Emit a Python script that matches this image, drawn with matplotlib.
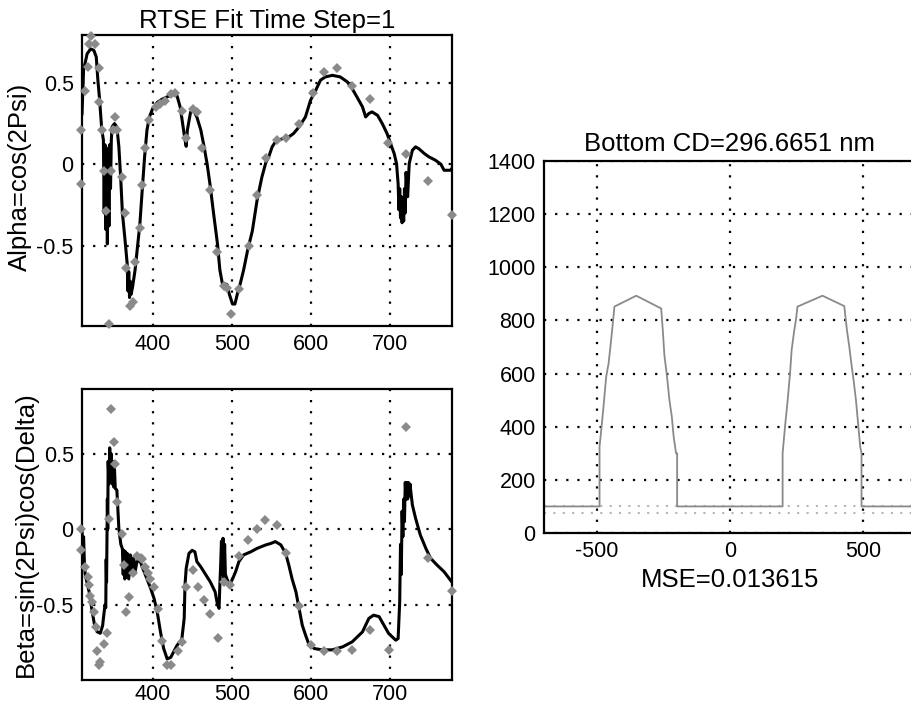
import matplotlib
matplotlib.use('Agg')
import matplotlib.pyplot as plt

plt.rcParams['font.family'] = ['Liberation Sans', 'DejaVu Sans']
plt.rcParams['axes.unicode_minus'] = False

# ---------------- data ----------------
alpha_wl = [311, 313, 317.5, 322, 326, 329, 331, 333, 336, 338, 339, 340, 341, 342, 343, 344, 345, 346, 347, 348,
            349, 352, 355, 357.5, 360, 362, 365, 368, 369, 370, 371, 372, 373, 375, 378, 381, 384, 387, 390, 393,
            396, 400, 406, 412, 421, 427, 431, 435, 438, 441, 442.5, 444, 448, 452, 456, 461, 465, 469, 473, 477,
            482, 485, 488, 494, 497, 501, 504, 507, 511, 515, 520, 526, 532, 538, 543, 547, 551, 555, 564, 572,
            578, 585, 593, 599.5, 606, 612, 618, 627, 637, 646, 652, 658, 665, 669, 673, 677, 684, 690, 696, 700.5,
            705, 708, 710, 711, 712, 713, 714, 715, 716, 717, 718, 719, 720, 722, 724, 728, 732, 736, 743, 749,
            757, 764, 768, 776, 778]
alpha_val = [0.31, 0.58, 0.68, 0.71, 0.70, 0.66, 0.52, 0.41, 0.21, 0.15, -0.30, 0.12, -0.40, 0.10, -0.49, 0.08, -0.38, 0.12, -0.15, 0.15,
             0.23, 0.25, 0.23, 0.11, -0.10, -0.30, -0.45, -0.61, -0.78, -0.66, -0.82, -0.72, -0.80, -0.75, -0.65, -0.51, -0.37, -0.16, 0.045, 0.21,
             0.29, 0.34, 0.38, 0.40, 0.42, 0.43, 0.42, 0.35, 0.25, 0.15, 0.11, 0.21, 0.32, 0.33, 0.29, 0.21, 0.11, 0.0, -0.14, -0.30,
             -0.49, -0.65, -0.73, -0.74, -0.80, -0.86, -0.86, -0.80, -0.73, -0.65, -0.53, -0.41, -0.22, -0.08, 0.01, 0.05, 0.107, 0.137, 0.158, 0.168,
             0.189, 0.23, 0.291, 0.394, 0.455, 0.517, 0.537, 0.547, 0.537, 0.506, 0.465, 0.414, 0.353, 0.291, 0.312, 0.322, 0.301, 0.25, 0.189, 0.127,
             0.066, 0.004, -0.12, -0.28, -0.15, -0.33, -0.20, -0.36, -0.22, -0.35, -0.15, -0.30, -0.05, -0.20, 0.004, 0.086, 0.107, 0.096, 0.066, 0.045,
             0.025, 0.0, -0.037, -0.037, -0.025]

alpha_pts_wl = [322, 320, 327, 318, 315, 310, 310, 332, 333, 336, 339, 341, 345, 347, 350, 353, 355, 362, 365, 366,
                372, 375, 378, 384, 387, 391, 396, 404, 410, 416, 423, 429, 437, 442, 451, 456, 463, 473, 482, 490,
                494, 499, 509, 522, 532, 543, 557, 568, 585, 602, 616, 633, 652, 675, 697, 720, 748, 778]
alpha_pts_val = [0.79, 0.74, 0.74, 0.60, 0.45, 0.21, -0.12, 0.59, 0.38, 0.21, -0.04, -0.29, -0.98, -0.04, 0.21, 0.29, 0.21, -0.08, -0.30, -0.64,
                 -0.87, -0.85, -0.60, -0.39, -0.13, 0.10, 0.27, 0.35, 0.37, 0.39, 0.43, 0.44, 0.33, 0.16, 0.34, 0.32, 0.10, -0.16, -0.54, -0.75,
                 -0.76, -0.92, -0.77, -0.50, -0.19, 0.04, 0.15, 0.16, 0.25, 0.44, 0.57, 0.59, 0.48, 0.40, 0.13, 0.06, -0.10, -0.31]

beta_wl = [311, 312, 313, 314, 315, 320, 324, 327, 330, 334, 337, 340, 341, 341.5, 342, 343, 343.5, 344, 345, 346,
           347, 348, 349, 350, 351, 352, 353, 355, 357.5, 360, 362, 363, 364, 365, 366, 367, 368, 370, 372, 374,
           376, 378, 381, 385, 387, 393, 397.5, 402, 406, 410, 414, 418.5, 423, 427, 431, 437, 440, 441, 442.5, 446,
           450, 453.5, 456, 461, 467, 473, 479, 482, 484, 485, 486, 487, 488, 489, 490, 491, 492, 494, 497, 501,
           505, 509, 515, 524, 532, 543, 549, 555, 562, 568, 572, 576, 581, 585, 589, 593, 597, 604, 614, 627,
           640, 652, 665, 673, 679, 686, 692, 698, 707, 710, 712, 713, 714, 715, 716, 717, 718, 719, 720, 721,
           722, 723, 724, 725, 726, 728, 732, 738, 745, 751, 759, 768, 777.5]
beta_val = [0.007, -0.15, -0.05, -0.22, -0.30, -0.415, -0.55, -0.64, -0.68, -0.69, -0.64, -0.50, -0.52, -0.20, -0.35, 0.20, 0.0, 0.45, 0.30, 0.54,
            0.32, 0.50, 0.30, 0.45, 0.28, 0.40, 0.27, 0.26, 0.007, -0.10, -0.13, -0.30, -0.14, -0.33, -0.15, -0.32, -0.16, -0.33, -0.17, -0.30,
            -0.19, -0.28, -0.20, -0.22, -0.25, -0.33, -0.39, -0.46, -0.55, -0.68, -0.79, -0.86, -0.85, -0.81, -0.77, -0.73, -0.59, -0.37, -0.26, -0.16,
            -0.14, -0.15, -0.215, -0.25, -0.30, -0.35, -0.415, -0.50, -0.525, -0.37, -0.24, -0.08, -0.30, -0.06, -0.32, -0.10, -0.30, -0.33, -0.37, -0.33,
            -0.28, -0.215, -0.17, -0.15, -0.127, -0.104, -0.095, -0.082, -0.104, -0.16, -0.237, -0.326, -0.415, -0.525, -0.636, -0.70, -0.758, -0.791, -0.80, -0.80,
            -0.78, -0.747, -0.681, -0.592, -0.57, -0.58, -0.636, -0.691, -0.736, -0.725, -0.48, -0.10, -0.30, 0.12, -0.05, 0.20, 0.05, 0.31, 0.20, 0.31,
            0.20, 0.31, 0.22, 0.30, 0.25, 0.161, 0.073, -0.038, -0.127, -0.193, -0.237, -0.282, -0.348]

beta_pts_wl = [348, 351, 353, 355, 345, 310, 310, 315, 318, 320, 321, 324, 326, 329, 343, 339, 330, 334, 333, 362,
               364, 370, 367, 375, 381, 385, 387, 391, 394, 397, 402, 407, 412, 418, 423, 432, 437, 442, 451, 458,
               465, 473, 483, 490, 498, 509, 521, 532, 542, 557, 569, 585, 600, 616, 633, 652, 675, 698, 720, 748, 778]
beta_pts_val = [0.80, 0.58, 0.43, 0.18, 0.07, 0.0, -0.14, -0.25, -0.32, -0.37, -0.44, -0.48, -0.55, -0.65, -0.69, -0.76, -0.81, -0.88, -0.90, -0.03,
                -0.24, -0.45, -0.55, -0.29, -0.18, -0.19, -0.20, -0.25, -0.29, -0.33, -0.38, -0.53, -0.74, -0.90, -0.90, -0.81, -0.75, -0.38, -0.27, -0.38,
                -0.47, -0.56, -0.72, -0.35, -0.37, -0.18, -0.07, 0.0, 0.06, 0.03, -0.16, -0.51, -0.77, -0.81, -0.81, -0.80, -0.67, -0.80, 0.68, -0.19, -0.41]

profile_x = [-700, -491, -491, -482, -475, -466, -457, -450, -441, -435, -353, -259, -253, -247, -237, -228, -219, -212,
             -203, -199, -199, 198, 198, 207, 217, 226, 232, 242, 248, 254, 348, 430, 440, 449, 455, 465, 474, 482,
             490, 495, 495, 700]
profile_y = [100, 100, 325, 413, 488, 588, 638, 701, 789, 852, 893, 845, 764, 670, 588, 500, 438, 362,
             300, 300, 100, 100, 300, 400, 500, 601, 689, 764, 801, 852, 893, 854, 764, 701, 651, 576, 500, 413,
             325, 300, 100, 100]
layer_levels = [100, 74]

wl_ticks = [400, 500, 600, 700]
ab_ticks = [-0.5, 0, 0.5]
ab_ticklabels = ['-0.5', '0', '0.5']
cd_xticks = [-500, 0, 500]
cd_yticks = [0, 200, 400, 600, 800, 1000, 1200, 1400]

# ---------------- figure ----------------
W, H = 911, 707
fig = plt.figure(figsize=(W / 100, H / 100), dpi=100)
ax1 = fig.add_axes([82 / W, 1 - 326 / H, 370 / W, 291 / H])
ax2 = fig.add_axes([82 / W, 1 - 680 / H, 370 / W, 291 / H])
ax3 = fig.add_axes([544 / W, 1 - 533 / H, 372 / W, 372 / H])

GRID = dict(color='black', linestyle=(0, (1, 4)), linewidth=1.6)


def style(ax, xpad=6):
    for s in ax.spines.values():
        s.set_linewidth(1.6)
        s.set_color('black')
    ax.tick_params(length=0, labelsize=15.5, pad=6, colors='black')
    ax.tick_params(axis='x', pad=xpad)
    ax.grid(True, **GRID)
    ax.set_axisbelow(True)


MK = '#8a8a8a'
MS = 5.3

# Alpha
ax1.plot(alpha_wl, alpha_val, color='black', lw=2.2, zorder=2)
ax1.plot(alpha_pts_wl, alpha_pts_val, 'D', color=MK, ms=MS, mew=0, zorder=3, clip_on=False)
ax1.set_xlim(311, 778)
ax1.set_ylim(-0.995, 0.795)
ax1.set_xticks(wl_ticks)
ax1.set_yticks(ab_ticks)
ax1.set_yticklabels(ab_ticklabels)
style(ax1)
ax1.set_title('RTSE Fit Time Step=1', fontsize=18.5, pad=5)
ax1.set_ylabel('Alpha=cos(2Psi)', fontsize=18.5)
ax1.yaxis.set_label_coords(-0.135, 0.512)

# Beta
ax2.plot(beta_wl, beta_val, color='black', lw=2.2, zorder=2)
ax2.plot(beta_pts_wl, beta_pts_val, 'D', color=MK, ms=MS, mew=0, zorder=3, clip_on=False)
ax2.set_xlim(311, 778)
ax2.set_ylim(-1.0, 0.93)
ax2.set_xticks(wl_ticks)
ax2.set_yticks(ab_ticks)
ax2.set_yticklabels(ab_ticklabels)
style(ax2, xpad=3)
ax2.set_ylabel('Beta=sin(2Psi)cos(Delta)', fontsize=18.5)
ax2.yaxis.set_label_coords(-0.12, 0.50)

# Profile
for lv in layer_levels:
    ax3.axhline(lv, color='#b5b5b5', linestyle=(0, (1, 3.5)), linewidth=1.5, zorder=1)
ax3.plot(profile_x, profile_y, color='#8a8a8a', lw=1.3, zorder=2)
ax3.set_xlim(-700, 700)
ax3.set_ylim(0, 1400)
ax3.set_xticks(cd_xticks)
ax3.set_yticks(cd_yticks)
style(ax3)
ax3.set_title('Bottom CD=296.6651 nm', fontsize=18.5, pad=7)
ax3.set_xlabel('MSE=0.013615', fontsize=18.5, labelpad=4)

fig.savefig('out.png', dpi=100)
